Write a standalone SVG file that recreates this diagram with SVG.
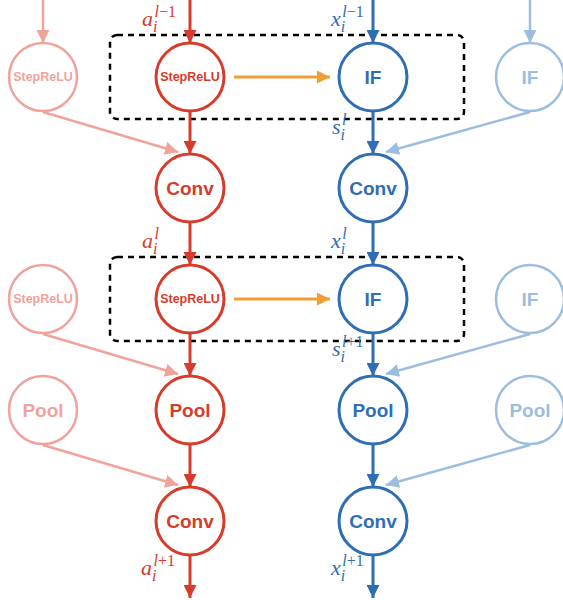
<svg xmlns="http://www.w3.org/2000/svg" width="563" height="600" viewBox="0 0 563 600">
<defs>
<style>
.n circle{fill:#fff;stroke-width:3}
.r circle{stroke:#D93B2B}.r text{fill:#D93B2B}
.b circle{stroke:#2F6EB5}.b text{fill:#2F6EB5}
.lr circle{stroke:#F0A29B;stroke-width:2.5}.lr text{fill:#F0A29B}
.lb circle{stroke:#9CBDE0;stroke-width:2.5}.lb text{fill:#9CBDE0}
.n text{font-family:"Liberation Sans",Arial,sans-serif;font-weight:bold;text-anchor:middle;dominant-baseline:central}
.big{font-size:19px}.sm{font-size:12.5px}
.e{fill:none}
.er{stroke:#D93B2B;stroke-width:3}
.eb{stroke:#2F6EB5;stroke-width:3}
.elr{stroke:#F0A29B;stroke-width:2.5}
.elb{stroke:#9CBDE0;stroke-width:2.5}
.eo{stroke:#F19F35;stroke-width:3}
.box{fill:none;stroke:#000;stroke-width:2.5;stroke-dasharray:6 5}
.lab{font-family:"Liberation Serif","Times New Roman",serif;font-style:italic;font-size:22px}
.lab tspan.s{font-size:16px}
.lab tspan.u{font-style:normal}
</style>
<marker id="mr" viewBox="0 0 10 10" refX="10" refY="5" markerWidth="13" markerHeight="13" markerUnits="userSpaceOnUse" orient="auto"><path d="M0,0L10,5L0,10z" fill="#D93B2B"/></marker>
<marker id="mb" viewBox="0 0 10 10" refX="10" refY="5" markerWidth="13" markerHeight="13" markerUnits="userSpaceOnUse" orient="auto"><path d="M0,0L10,5L0,10z" fill="#2F6EB5"/></marker>
<marker id="mlr" viewBox="0 0 10 10" refX="10" refY="5" markerWidth="13" markerHeight="13" markerUnits="userSpaceOnUse" orient="auto"><path d="M0,0L10,5L0,10z" fill="#F0A29B"/></marker>
<marker id="mlb" viewBox="0 0 10 10" refX="10" refY="5" markerWidth="13" markerHeight="13" markerUnits="userSpaceOnUse" orient="auto"><path d="M0,0L10,5L0,10z" fill="#9CBDE0"/></marker>
<marker id="mo" viewBox="0 0 10 10" refX="10" refY="5" markerWidth="13" markerHeight="13" markerUnits="userSpaceOnUse" orient="auto"><path d="M0,0L10,5L0,10z" fill="#F19F35"/></marker>
</defs>
<rect width="563" height="600" fill="#fff"/>
<g id="boxes">
<rect class="box" x="110" y="35" width="354" height="84" rx="7"/>
<rect class="box" x="110" y="257" width="354" height="84" rx="7"/>
</g>
<g id="connectors">
<line class="e elr" x1="43" y1="0" x2="43" y2="43" marker-end="url(#mlr)"/>
<line class="e er" x1="190" y1="0" x2="190" y2="43" marker-end="url(#mr)"/>
<line class="e eb" x1="373" y1="0" x2="373" y2="43" marker-end="url(#mb)"/>
<line class="e elb" x1="530" y1="0" x2="530" y2="43" marker-end="url(#mlb)"/>
<line class="e eo" x1="234" y1="77" x2="330" y2="77" marker-end="url(#mo)"/>
<line class="e eo" x1="234" y1="299" x2="330" y2="299" marker-end="url(#mo)"/>
<line class="e er" x1="190" y1="111" x2="190" y2="154" marker-end="url(#mr)"/>
<line class="e er" x1="190" y1="222" x2="190" y2="265" marker-end="url(#mr)"/>
<line class="e er" x1="190" y1="333" x2="190" y2="376" marker-end="url(#mr)"/>
<line class="e er" x1="190" y1="444" x2="190" y2="487" marker-end="url(#mr)"/>
<line class="e er" x1="190" y1="555" x2="190" y2="598" marker-end="url(#mr)"/>
<line class="e eb" x1="373" y1="111" x2="373" y2="154" marker-end="url(#mb)"/>
<line class="e eb" x1="373" y1="222" x2="373" y2="265" marker-end="url(#mb)"/>
<line class="e eb" x1="373" y1="333" x2="373" y2="376" marker-end="url(#mb)"/>
<line class="e eb" x1="373" y1="444" x2="373" y2="487" marker-end="url(#mb)"/>
<line class="e eb" x1="373" y1="555" x2="373" y2="598" marker-end="url(#mb)"/>
<line class="e elr" x1="43" y1="112" x2="178" y2="152" marker-end="url(#mlr)"/>
<line class="e elr" x1="43" y1="334" x2="178" y2="374" marker-end="url(#mlr)"/>
<line class="e elr" x1="43" y1="445" x2="178" y2="485" marker-end="url(#mlr)"/>
<line class="e elb" x1="530" y1="112" x2="386" y2="152" marker-end="url(#mlb)"/>
<line class="e elb" x1="530" y1="334" x2="386" y2="374" marker-end="url(#mlb)"/>
<line class="e elb" x1="530" y1="445" x2="386" y2="485" marker-end="url(#mlb)"/>
</g>
<g id="lr1" class="n lr"><circle cx="43" cy="77" r="34"/><text x="43" y="77" class="sm">StepReLU</text></g>
<g id="r1" class="n r"><circle cx="190" cy="77" r="34"/><text x="190" y="77" class="sm">StepReLU</text></g>
<g id="b1" class="n b"><circle cx="373" cy="77" r="34"/><text x="373" y="77" class="big">IF</text></g>
<g id="lb1" class="n lb"><circle cx="530" cy="77" r="34"/><text x="530" y="77" class="big">IF</text></g>
<g id="r2" class="n r"><circle cx="190" cy="188" r="34"/><text x="190" y="188" class="big">Conv</text></g>
<g id="b2" class="n b"><circle cx="373" cy="188" r="34"/><text x="373" y="188" class="big">Conv</text></g>
<g id="lr3" class="n lr"><circle cx="43" cy="299" r="34"/><text x="43" y="299" class="sm">StepReLU</text></g>
<g id="r3" class="n r"><circle cx="190" cy="299" r="34"/><text x="190" y="299" class="sm">StepReLU</text></g>
<g id="b3" class="n b"><circle cx="373" cy="299" r="34"/><text x="373" y="299" class="big">IF</text></g>
<g id="lb3" class="n lb"><circle cx="530" cy="299" r="34"/><text x="530" y="299" class="big">IF</text></g>
<g id="lr4" class="n lr"><circle cx="43" cy="410" r="34"/><text x="43" y="410" class="big">Pool</text></g>
<g id="r4" class="n r"><circle cx="190" cy="410" r="34"/><text x="190" y="410" class="big">Pool</text></g>
<g id="b4" class="n b"><circle cx="373" cy="410" r="34"/><text x="373" y="410" class="big">Pool</text></g>
<g id="lb4" class="n lb"><circle cx="530" cy="410" r="34"/><text x="530" y="410" class="big">Pool</text></g>
<g id="r5" class="n r"><circle cx="190" cy="521" r="34"/><text x="190" y="521" class="big">Conv</text></g>
<g id="b5" class="n b"><circle cx="373" cy="521" r="34"/><text x="373" y="521" class="big">Conv</text></g>
<g id="labels">
<text class="lab" fill="#D93B2B" x="142" y="26">a<tspan class="s" dy="6">i</tspan><tspan class="s" dx="-3" dy="-15">l</tspan><tspan class="s u">−1</tspan></text>
<text class="lab" fill="#2F6EB5" x="331" y="26">x<tspan class="s" dy="6">i</tspan><tspan class="s" dx="-3" dy="-15">l</tspan><tspan class="s u">−1</tspan></text>
<text class="lab" fill="#2F6EB5" x="332" y="134">s<tspan class="s" dy="6">i</tspan><tspan class="s" dx="-3" dy="-15">l</tspan></text>
<text class="lab" fill="#D93B2B" x="142" y="248">a<tspan class="s" dy="6">i</tspan><tspan class="s" dx="-3" dy="-15">l</tspan></text>
<text class="lab" fill="#2F6EB5" x="331" y="248">x<tspan class="s" dy="6">i</tspan><tspan class="s" dx="-3" dy="-15">l</tspan></text>
<text class="lab" fill="#2F6EB5" x="332" y="356">s<tspan class="s" dy="6">i</tspan><tspan class="s" dx="-3" dy="-15">l</tspan><tspan class="s u">+1</tspan></text>
<text class="lab" fill="#D93B2B" x="141" y="575">a<tspan class="s" dy="6">i</tspan><tspan class="s" dx="-3" dy="-15">l</tspan><tspan class="s u">+1</tspan></text>
<text class="lab" fill="#2F6EB5" x="331" y="575">x<tspan class="s" dy="6">i</tspan><tspan class="s" dx="-3" dy="-15">l</tspan><tspan class="s u">+1</tspan></text>
</g>
</svg>
